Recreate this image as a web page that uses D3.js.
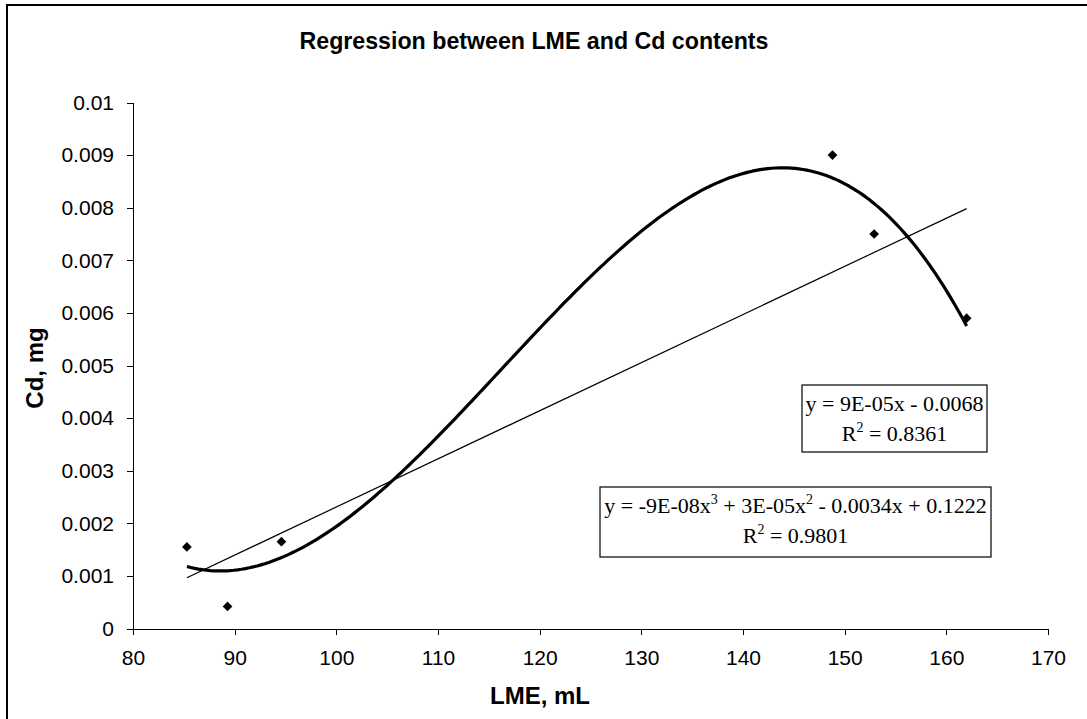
<!DOCTYPE html>
<html>
<head>
<meta charset="utf-8">
<script src="https://cdn.jsdelivr.net/npm/d3@7"></script>
<style>
  body { margin: 0; background: #fff; }
  svg { display: block; }
</style>
</head>
<body>
<svg id="chart" width="1087" height="719"></svg>
<script>
// LME volume (mL) and Cd content (mg) for each sample
const lme = [85.3, 89.3, 94.6, 148.8, 152.9, 162.0];
const cd  = [0.00155, 0.00042, 0.00165, 0.0090, 0.00750, 0.00590];

const xTicks = [80, 90, 100, 110, 120, 130, 140, 150, 160, 170];
const yTicks = [0, 0.001, 0.002, 0.003, 0.004, 0.005, 0.006, 0.007, 0.008, 0.009, 0.01];
const yTickLabels = ["0", "0.001", "0.002", "0.003", "0.004", "0.005", "0.006", "0.007", "0.008", "0.009", "0.01"];

// trendline labels; "^" marks a superscript character
const linearEq = ["y = 9E-05x - 0.0068", "R^2 = 0.8361"];
const cubicEq  = ["y = -9E-08x^3 + 3E-05x^2 - 0.0034x + 0.1222", "R^2 = 0.9801"];

const svg = d3.select("#chart");
const sans = "'Liberation Sans', Arial, sans-serif";
const serif = "'Liberation Serif', 'Times New Roman', serif";

// chart frame
svg.append("rect")
  .attr("x", 7).attr("y", 5).attr("width", 1110).attr("height", 740)
  .attr("fill", "none").attr("stroke", "#000").attr("stroke-width", 2);

const x = d3.scaleLinear().domain([80, 170]).range([133, 1048]);
const y = d3.scaleLinear().domain([0, 0.01]).range([628.5, 102.5]);

// axes
const xAxis = d3.axisBottom(x).tickValues(xTicks).tickSize(6).tickSizeOuter(0).tickPadding(8);
const yAxis = d3.axisLeft(y).tickValues(yTicks).tickSize(6).tickSizeOuter(0).tickPadding(13)
  .tickFormat((d, i) => yTickLabels[i]);

const gx = svg.append("g").attr("transform", `translate(0,${y(0)})`).call(xAxis);
const gy = svg.append("g").attr("transform", `translate(${x(80)},0)`).call(yAxis);
[gx, gy].forEach(g => {
  g.selectAll("path, line").attr("stroke", "#000").attr("stroke-width", 1).attr("shape-rendering", "crispEdges");
  g.selectAll("text").attr("font-size", 21).attr("fill", "#000").attr("font-family", sans);
});
gx.selectAll("text").attr("dy", "1.05em");

// least-squares polynomial fit (centred x for stability)
function polyFit(xs, ys, deg) {
  const mx = d3.mean(xs);
  const n = deg + 1;
  const A = Array.from({length: n}, () => new Array(n + 1).fill(0));
  xs.forEach((xv, k) => {
    const t = xv - mx;
    for (let i = 0; i < n; i++) {
      for (let j = 0; j < n; j++) A[i][j] += Math.pow(t, i + j);
      A[i][n] += ys[k] * Math.pow(t, i);
    }
  });
  for (let c = 0; c < n; c++) {
    let p = c;
    for (let r = c + 1; r < n; r++) if (Math.abs(A[r][c]) > Math.abs(A[p][c])) p = r;
    [A[c], A[p]] = [A[p], A[c]];
    for (let r = 0; r < n; r++) {
      if (r === c) continue;
      const f = A[r][c] / A[c][c];
      for (let k = c; k <= n; k++) A[r][k] -= f * A[c][k];
    }
  }
  const coef = A.map((row, i) => row[n] / row[i]);
  return xv => coef.reduce((s, c, i) => s + c * Math.pow(xv - mx, i), 0);
}

const fLin = polyFit(lme, cd, 1);
const fCub = polyFit(lme, cd, 3);
const xMin = d3.min(lme), xMax = d3.max(lme);
const samples = d3.range(0, 201).map(i => xMin + (xMax - xMin) * i / 200);

const line = d3.line().x(d => x(d[0])).y(d => y(d[1]));

// linear trendline
svg.append("path")
  .datum([[xMin, fLin(xMin)], [xMax, fLin(xMax)]])
  .attr("d", line).attr("fill", "none").attr("stroke", "#000").attr("stroke-width", 1.2);

// cubic trendline
svg.append("path")
  .datum(samples.map(v => [v, fCub(v)]))
  .attr("d", line).attr("fill", "none").attr("stroke", "#000").attr("stroke-width", 3.2)
  .attr("stroke-linejoin", "round");

// data markers (diamonds)
svg.append("g").selectAll("path")
  .data(lme.map((v, i) => [v, cd[i]]))
  .join("path")
  .attr("d", d3.symbol(d3.symbolDiamond2, 60))
  .attr("transform", d => `translate(${x(d[0])},${y(d[1])})`)
  .attr("fill", "#000");

// title and axis titles
svg.append("text")
  .attr("x", 534).attr("y", 49).attr("text-anchor", "middle")
  .attr("font-family", sans).attr("font-weight", "bold").attr("font-size", 23.2)
  .text("Regression between LME and Cd contents");

svg.append("text")
  .attr("x", 540).attr("y", 704).attr("text-anchor", "middle")
  .attr("font-family", sans).attr("font-weight", "bold").attr("font-size", 24)
  .text("LME, mL");

svg.append("text")
  .attr("transform", "translate(43,368) rotate(-90)").attr("text-anchor", "middle")
  .attr("font-family", sans).attr("font-weight", "bold").attr("font-size", 24)
  .text("Cd, mg");

// equation labels with superscript exponents
function eqText(sel, str) {
  const parts = str.split(/(\^.)/).filter(p => p.length);
  let shift = 0;
  parts.forEach(p => {
    if (p[0] === "^") {
      sel.append("tspan").attr("dy", -9 - shift).attr("font-size", 14).text(p[1]);
      shift = -9;
    } else {
      sel.append("tspan").attr("dy", -shift).text(p);
      shift = 0;
    }
  });
}

function eqBox(lines, x0, y0, w, h) {
  const g = svg.append("g");
  g.append("rect").attr("x", x0).attr("y", y0).attr("width", w).attr("height", h)
    .attr("fill", "#fff").attr("stroke", "#000").attr("stroke-width", 1.2);
  lines.forEach((s, i) => {
    const t = g.append("text")
      .attr("x", x0 + w / 2).attr("y", y0 + 26 + i * 30)
      .attr("text-anchor", "middle").attr("font-family", serif).attr("font-size", 22)
      .attr("xml:space", "preserve");
    eqText(t, s);
  });
}

eqBox(linearEq, 802, 385, 185, 67);
eqBox(cubicEq, 600, 487, 391, 70);
</script>
</body>
</html>
